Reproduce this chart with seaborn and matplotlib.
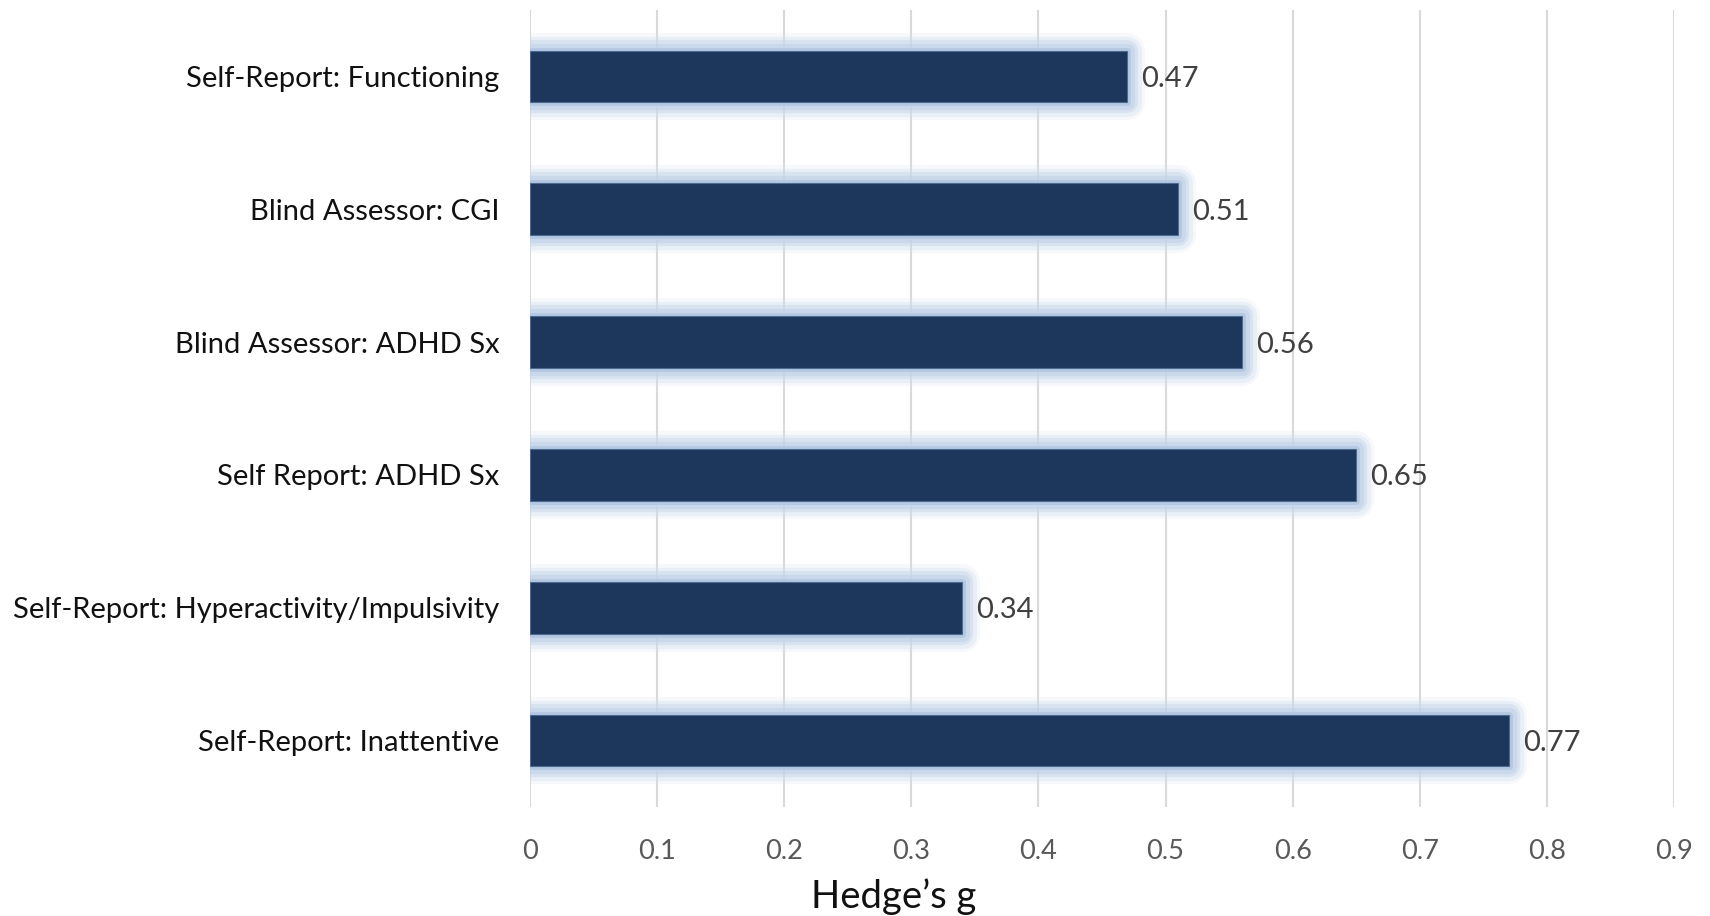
import matplotlib
matplotlib.use("Agg")
import matplotlib.pyplot as plt
import matplotlib.patheffects as pe
import seaborn as sns
import pandas as pd

# Effect sizes by outcome measure
measures = [
    "Self-Report: Functioning",
    "Blind Assessor: CGI",
    "Blind Assessor: ADHD Sx",
    "Self Report: ADHD Sx",
    "Self-Report: Hyperactivity/Impulsivity",
    "Self-Report: Inattentive",
]
hedges_g = [0.47, 0.51, 0.56, 0.65, 0.34, 0.77]
x_ticks = [0, 0.1, 0.2, 0.3, 0.4, 0.5, 0.6, 0.7, 0.8, 0.9]

df = pd.DataFrame({"measure": measures, "g": hedges_g})

sns.set_style("white")
plt.rcParams["font.family"] = ["Lato", "DejaVu Sans"]

fig = plt.figure(figsize=(17.10, 9.16), dpi=100)
ax = fig.add_axes([530 / 1710, 1 - 807 / 916, 1144 / 1710, 797 / 916])

sns.barplot(data=df, x="g", y="measure", order=measures, orient="h",
            color="#1d365c", saturation=1, width=0.39, ax=ax, zorder=3)

# soft blue glow around each bar
glow = [
    pe.Stroke(linewidth=26, foreground="#d8e3f0", alpha=0.22, joinstyle="round"),
    pe.Stroke(linewidth=21, foreground="#cfdcee", alpha=0.32, joinstyle="round"),
    pe.Stroke(linewidth=16, foreground="#c6d6ea", alpha=0.45, joinstyle="round"),
    pe.Stroke(linewidth=11, foreground="#bfd1e7", alpha=0.6, joinstyle="round"),
    pe.Stroke(linewidth=5, foreground="#b3c8e2", alpha=0.9, joinstyle="round"),
    pe.Normal(),
]
for bar in ax.patches:
    bar.set_edgecolor("#4d6a92")
    bar.set_linewidth(0.8)
    bar.set_path_effects(glow)

texts = ax.bar_label(ax.containers[0], labels=[f"{v:.2f}" for v in hedges_g],
                     padding=10, fontsize=21, color="#404040")
for t in texts:
    t.set_va("center")
    t.xyann = (10, -1.8)

ax.set_xlim(0, 0.9)
ax.set_ylim(len(measures) - 0.5, -0.5)
ax.set_xticks(x_ticks)
ax.set_xticklabels([f"{t:g}" for t in x_ticks])
ax.xaxis.grid(True, color="#d9d9d9", linewidth=1.5, zorder=0)
ax.yaxis.grid(False)
ax.set_axisbelow(True)
for s in ax.spines.values():
    s.set_visible(False)

ax.tick_params(axis="x", length=0, pad=23, labelsize=19.5, labelcolor="#595959")
ax.tick_params(axis="y", length=0, pad=22, labelsize=21, labelcolor="#111111")

ax.set_ylabel("")
ax.set_xlabel("Hedge\u2019s g", fontsize=27.5, color="#111111")
ax.xaxis.set_label_coords((894 - 530) / 1144, -0.09)

fig.savefig("out.png", dpi=100, facecolor="white")
